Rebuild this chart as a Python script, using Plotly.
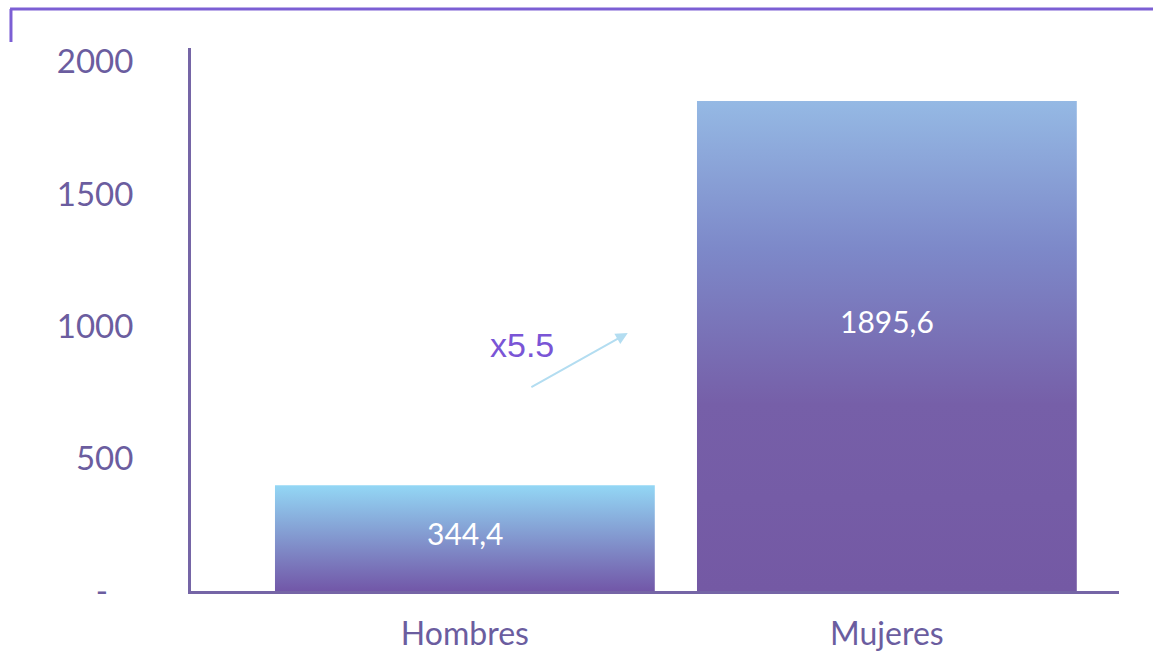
import plotly.graph_objects as go

categories = ["Hombres", "Mujeres"]
bar_heights = [400, 1852]          # heights as drawn in the picture
value_labels = ["344,4", "1895,6"]
y_tickvals = [0, 500, 1000, 1500, 2000]
y_ticktext = ["-\u00a0\u00a0\u00a0", "500", "1000", "1500", "2000"]

colorscales = [
    [[0, "#7257a8"], [1, "#93d7f5"]],
    [[0, "#7459a4"], [0.38, "#765fa8"], [0.7, "#7d89c9"], [1, "#95b9e4"]],
]

axis_color = "#7565a6"
text_color = "#6b5d9f"
width = 0.9

fig = go.Figure()
for i, (cat, v) in enumerate(zip(categories, bar_heights)):
    fig.add_trace(
        go.Scatter(
            x=[i - width / 2, i + width / 2, i + width / 2, i - width / 2, i - width / 2],
            y=[0, 0, v, v, 0],
            mode="lines",
            line=dict(width=0),
            fill="toself",
            fillgradient=dict(type="vertical", colorscale=colorscales[i], start=0, stop=v),
            hoverinfo="skip",
            showlegend=False,
            name=cat,
        )
    )
    fig.add_annotation(
        x=i, y=v * 0.55, text=value_labels[i], showarrow=False,
        font=dict(family="Lato", size=30, color="white"),
    )

fig.add_annotation(
    x=0.386, y=975, ax=0.154, ay=767, axref="x", ayref="y",
    text="", showarrow=True, arrowhead=2, arrowsize=1.2, arrowwidth=2,
    arrowcolor="#b3ddf1",
)
fig.add_annotation(
    x=0.135, y=930, text="x5.5", showarrow=False,
    font=dict(family="Liberation Sans", size=34, color="#7a55d6"),
)

# decorative frame at the top
fig.add_shape(type="line", xref="paper", yref="paper", x0=-0.195, x1=1.04, y0=1.0718, y1=1.0718,
              line=dict(color="#7c5fd4", width=3))
fig.add_shape(type="line", xref="paper", yref="paper", x0=-0.194, x1=-0.194, y0=1.0718, y1=1.011,
              line=dict(color="#7c5fd4", width=3))

fig.update_layout(
    width=1153,
    height=657,
    paper_bgcolor="white",
    plot_bgcolor="white",
    margin=dict(l=191, r=34, t=48, b=66),
    font=dict(family="Lato", color=text_color),
    xaxis=dict(
        range=[-0.649, 1.55],
        tickvals=[0, 1],
        ticktext=categories,
        showgrid=False,
        zeroline=False,
        showline=True,
        linecolor=axis_color,
        linewidth=3,
        ticks="",
        automargin=False,
        ticklabelstandoff=13,
        tickfont=dict(size=32, color=text_color),
    ),
    yaxis=dict(
        range=[0, 2052],
        tickvals=y_tickvals,
        ticktext=y_ticktext,
        showgrid=False,
        zeroline=False,
        showline=True,
        linecolor=axis_color,
        linewidth=3,
        ticks="",
        automargin=False,
        ticklabelstandoff=48,
        tickfont=dict(size=33, color=text_color),
    ),
)

fig.write_html(
    "out.html",
    config={"displayModeBar": False},
    post_script="document.body.style.margin='0';document.body.style.overflow='hidden';",
)
